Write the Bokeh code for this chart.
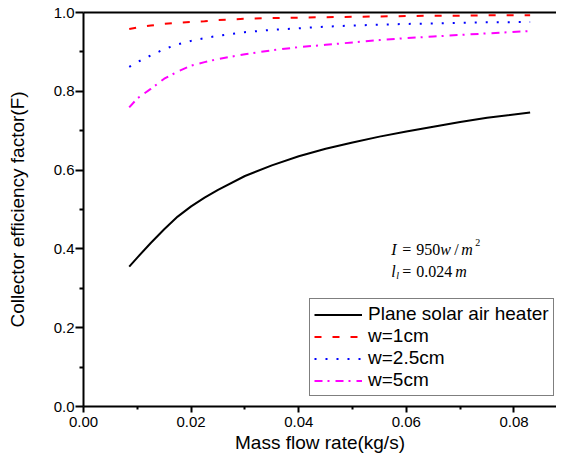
from bokeh.plotting import figure
from bokeh.models import (Legend, LegendItem, LinearAxis, Label, Range1d,
                          FixedTicker, NumeralTickFormatter)
from bokeh.embed import file_html
from bokeh.resources import INLINE

# ---- data ----
mass_flow = [0.0085, 0.010, 0.0125, 0.015, 0.0175, 0.020, 0.0225, 0.025, 0.030, 0.035,
             0.040, 0.045, 0.050, 0.055, 0.060, 0.065, 0.070, 0.075, 0.083]
plane_heater = [0.355, 0.378, 0.415, 0.450, 0.482, 0.508, 0.530, 0.550, 0.585, 0.612,
                0.635, 0.654, 0.670, 0.685, 0.698, 0.710, 0.722, 0.733, 0.746]
w_1cm = [0.958, 0.962, 0.967, 0.971, 0.974, 0.976, 0.978, 0.981, 0.984, 0.986,
         0.987, 0.988, 0.989, 0.990, 0.991, 0.992, 0.992, 0.993, 0.993]
w_2_5cm = [0.862, 0.874, 0.891, 0.907, 0.919, 0.928, 0.935, 0.941, 0.950, 0.956,
           0.960, 0.964, 0.967, 0.969, 0.971, 0.972, 0.974, 0.975, 0.976]
w_5cm = [0.759, 0.782, 0.806, 0.832, 0.850, 0.865, 0.874, 0.882, 0.894, 0.904,
         0.912, 0.918, 0.924, 0.930, 0.935, 0.939, 0.943, 0.947, 0.953]

series_labels = ["Plane solar air heater", "w=1cm", "w=2.5cm", "w=5cm"]

x_major = [0.00, 0.02, 0.04, 0.06, 0.08]
x_minor = [0.01, 0.03, 0.05, 0.07]
y_major = [0.0, 0.2, 0.4, 0.6, 0.8, 1.0]
y_minor = [0.1, 0.3, 0.5, 0.7, 0.9]

FONT = "Liberation Sans"
SERIF = "Liberation Serif"

p = figure(width=556, height=457, x_range=Range1d(0, 0.0879), y_range=Range1d(0, 1.0),
           output_backend="svg", toolbar_location=None,
           min_border_left=83, min_border_top=12, min_border_right=0, min_border_bottom=51)
p.outline_line_color = None
p.grid.visible = False
p.background_fill_color = "white"
p.border_fill_color = "white"

xa = p.xaxis[0]
xa.ticker = FixedTicker(ticks=x_major, minor_ticks=x_minor)
xa.formatter = NumeralTickFormatter(format="0.00")
xa.axis_label = "Mass flow rate(kg/s)"
ya = p.yaxis[0]
ya.ticker = FixedTicker(ticks=y_major, minor_ticks=y_minor)
ya.formatter = NumeralTickFormatter(format="0.0")
ya.axis_label = "Collector efficiency factor(F)"

for ax in (xa, ya):
    ax.axis_line_width = 2
    ax.axis_line_color = "black"
    ax.major_tick_line_width = 2
    ax.minor_tick_line_width = 2
    ax.major_tick_in = 0
    ax.minor_tick_in = 0
    ax.major_label_text_font = FONT
    ax.major_label_text_font_size = "15px"
    ax.major_label_text_color = "black"
    ax.axis_label_text_font = FONT
    ax.axis_label_text_font_size = "19px"
    ax.axis_label_text_font_style = "normal"
    ax.axis_label_text_color = "black"

xa.major_tick_out = 6
xa.minor_tick_out = 3
xa.major_label_standoff = 4
xa.axis_label_standoff = 2
ya.major_tick_out = 8
ya.minor_tick_out = 4
ya.major_label_standoff = 1
ya.axis_label_standoff = 23

top = LinearAxis(ticker=FixedTicker(ticks=[]), axis_line_width=2, axis_line_color="black",
                 major_label_text_font_size="0px", major_tick_out=0, minor_tick_out=0,
                 major_label_standoff=0)
p.add_layout(top, "above")

r0 = p.line(mass_flow, plane_heater, line_color="black", line_width=2)
r1 = p.line(mass_flow, w_1cm, line_color="red", line_width=2, line_dash="7 11")
r2 = p.line(mass_flow, w_2_5cm, line_color="blue", line_width=2, line_dash="2 9")
r3 = p.line(mass_flow, w_5cm, line_color="magenta", line_width=2, line_dash="8 5 2 6")

legend = Legend(items=[LegendItem(label=l, renderers=[r]) for l, r in
                       zip(series_labels, [r0, r1, r2, r3])],
                location=(226, 10), label_text_font=FONT, label_text_font_size="19px",
                label_text_color="black", glyph_width=48, glyph_height=21, label_height=21,
                label_standoff=6, spacing=0, padding=4, margin=0,
                border_line_color="black", border_line_width=1, background_fill_alpha=1)
p.add_layout(legend, "center")

# annotation: I = 950 w / m^2 ; l_l = 0.024 m
ann_x = 0.057
line1_y = 0.398
line2_y = 0.343
pieces = [
    ("I", line1_y, 1, 0, "italic", "16px"),
    ("=", line1_y, 12, 0, "normal", "16px"),
    ("950", line1_y, 26, 0, "normal", "16px"),
    ("w", line1_y, 50, 0, "italic", "16px"),
    ("/", line1_y, 64, 0, "normal", "16px"),
    ("m", line1_y, 71, 0, "italic", "16px"),
    ("2", line1_y, 85, 7, "normal", "10px"),
    ("l", line2_y, 1, 0, "italic", "16px"),
    ("l", line2_y, 6, -4, "italic", "10px"),
    ("=", line2_y, 12, 0, "normal", "16px"),
    ("0.024", line2_y, 26, 0, "normal", "16px"),
    ("m", line2_y, 65, 0, "italic", "16px"),
]
for txt, yy, dx, dy, style, size in pieces:
    p.add_layout(Label(x=ann_x, y=yy, x_offset=dx, y_offset=dy, text=txt,
                       text_font=SERIF, text_font_style=style, text_font_size=size,
                       text_color="black", text_baseline="alphabetic", text_align="left"))

open("out.html", "w").write(file_html(p, INLINE))
